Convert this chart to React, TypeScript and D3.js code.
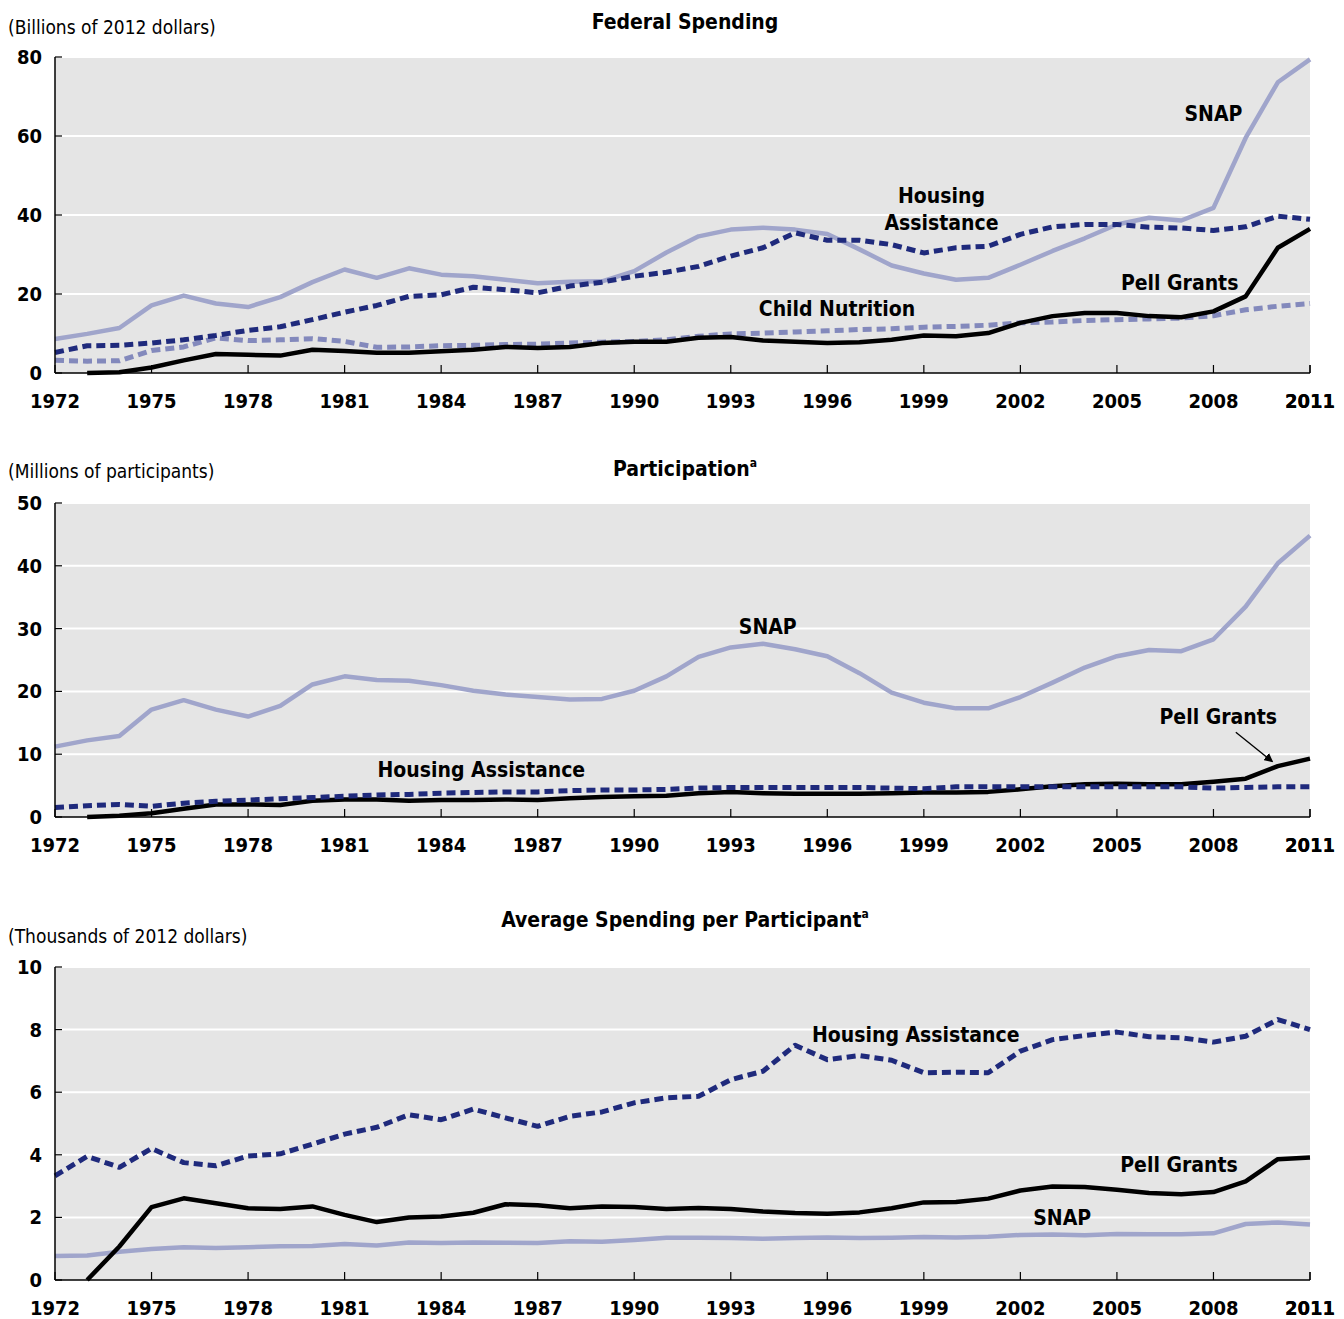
import React from "react";
import * as d3 from "d3";

// years 1972..2011
const years = d3.range(1972, 2012);
const yearTicks = d3.range(1972, 2012, 3).concat([2011]);

// Federal spending, billions of 2012 dollars
const spendSnap = [8.6, 9.9, 11.4, 17.1, 19.6, 17.6, 16.7, 19.2, 23.0, 26.2, 24.1, 26.5, 24.9, 24.5, 23.6, 22.7, 23.1, 23.2, 25.8, 30.5,
  34.6, 36.3, 36.8, 36.3, 35.2, 31.3, 27.2, 25.2, 23.6, 24.1, 27.4, 30.9, 34.1, 37.6, 39.3, 38.6, 41.8, 59.5, 73.6, 79.4];
const spendHousing = [5.2, 6.9, 7.0, 7.6, 8.4, 9.5, 10.8, 11.7, 13.5, 15.4, 17.1, 19.4, 19.8, 21.7, 21.1, 20.3, 22.0, 23.0, 24.5, 25.5,
  27.0, 29.6, 31.7, 35.5, 33.6, 33.6, 32.5, 30.4, 31.7, 32.1, 35.1, 37.0, 37.6, 37.6, 36.9, 36.7, 36.1, 37.0, 39.7, 38.9];
const spendChild = [3.2, 3.0, 3.1, 5.7, 6.6, 8.9, 8.2, 8.4, 8.7, 8.0, 6.5, 6.6, 6.9, 7.0, 7.2, 7.3, 7.6, 7.8, 8.0, 8.4,
  9.3, 9.9, 10.1, 10.4, 10.7, 11.0, 11.2, 11.6, 11.8, 12.1, 12.7, 12.9, 13.3, 13.5, 13.7, 13.9, 14.5, 16.0, 16.9, 17.6];
const spendPell = [null, 0, 0.2, 1.4, 3.2, 4.8, 4.6, 4.4, 5.9, 5.6, 5.1, 5.1, 5.5, 5.9, 6.6, 6.3, 6.6, 7.6, 7.9, 7.9,
  8.9, 9.1, 8.2, 7.9, 7.6, 7.8, 8.4, 9.5, 9.3, 10.1, 12.7, 14.4, 15.2, 15.2, 14.4, 14.1, 15.6, 19.4, 31.7, 36.5];

// Participation, millions
const partSnap = [11.2, 12.2, 12.9, 17.1, 18.6, 17.1, 16.0, 17.7, 21.1, 22.4, 21.8, 21.7, 21.0, 20.1, 19.5, 19.1, 18.7, 18.8, 20.1, 22.4,
  25.5, 27.0, 27.6, 26.7, 25.6, 22.9, 19.8, 18.2, 17.3, 17.3, 19.1, 21.4, 23.8, 25.6, 26.6, 26.4, 28.3, 33.5, 40.4, 44.8];
const partHousing = [1.5, 1.8, 2.0, 1.7, 2.2, 2.5, 2.7, 2.9, 3.1, 3.3, 3.5, 3.6, 3.8, 3.9, 4.0, 4.0, 4.2, 4.3, 4.3, 4.4,
  4.6, 4.7, 4.7, 4.7, 4.7, 4.7, 4.6, 4.5, 4.8, 4.8, 4.8, 4.8, 4.8, 4.8, 4.8, 4.8, 4.6, 4.7, 4.8, 4.8];
const partPell = [null, 0, 0.2, 0.6, 1.3, 2.0, 2.0, 1.9, 2.6, 2.8, 2.8, 2.6, 2.7, 2.7, 2.8, 2.7, 3.0, 3.2, 3.3, 3.4,
  3.8, 4.0, 3.8, 3.7, 3.7, 3.7, 3.8, 3.9, 3.9, 4.0, 4.4, 4.9, 5.2, 5.3, 5.2, 5.2, 5.6, 6.1, 8.1, 9.3];

// Average spending per participant, thousands of 2012 dollars
const avgHousing = [3.33, 3.95, 3.6, 4.2, 3.75, 3.65, 3.96, 4.03, 4.34, 4.66, 4.88, 5.28, 5.12, 5.46, 5.18, 4.91, 5.23, 5.37, 5.66, 5.82,
  5.87, 6.4, 6.67, 7.5, 7.04, 7.17, 7.02, 6.62, 6.64, 6.62, 7.31, 7.68, 7.81, 7.92, 7.77, 7.74, 7.6, 7.79, 8.32, 8.0];
const avgPell = [null, 0, 1.07, 2.33, 2.61, 2.45, 2.29, 2.27, 2.35, 2.08, 1.85, 2.0, 2.03, 2.15, 2.42, 2.39, 2.29, 2.35, 2.33, 2.27,
  2.3, 2.27, 2.19, 2.14, 2.12, 2.16, 2.29, 2.48, 2.49, 2.6, 2.86, 2.99, 2.97, 2.88, 2.78, 2.74, 2.81, 3.15, 3.86, 3.91];
const avgSnap = [0.77, 0.78, 0.9, 0.99, 1.05, 1.02, 1.05, 1.08, 1.09, 1.15, 1.1, 1.2, 1.18, 1.2, 1.19, 1.18, 1.24, 1.22, 1.28, 1.35,
  1.35, 1.34, 1.32, 1.34, 1.36, 1.34, 1.35, 1.37, 1.36, 1.38, 1.44, 1.45, 1.43, 1.47, 1.46, 1.46, 1.49, 1.79, 1.84, 1.77];

const FONT = "'DejaVu Sans Condensed', 'Liberation Sans Narrow', sans-serif";
const C_SNAP = "#a0a5cb";
const C_HOUSING = "#1f2a7c";
const C_CHILD = "#8389bc";
const C_PELL = "#000000";

const left = 55;
const right = 1310;

type Series = { values: (number | null)[]; color: string; dash?: string; width: number };
type Label = { text: string[]; year: number; value: number; anchor?: string };

const x = d3.scaleLinear().domain([1972, 2011]).range([left, right]);

function Panel(props: {
  top: number; bottom: number; max: number; step: number;
  title: string; sup: boolean; titleY: number; unit: string; unitY: number;
  series: Series[]; labels: Label[]; arrow?: { year: number; value: number };
}) {
  const { top, bottom, max, step, series, labels } = props;
  const y = d3.scaleLinear().domain([0, max]).range([bottom, top]);
  const yTicks = d3.range(0, max + step / 2, step);
  const line = d3.line<number | null>()
    .defined((d) => d !== null)
    .x((_, i) => x(years[i]))
    .y((d) => y(d as number));
  return (
    <g>
      <text x={685} y={props.titleY} textAnchor="middle" fontWeight="bold" fontSize={21}>
        {props.title}
        {props.sup && <tspan fontSize={12} dy={-9}>a</tspan>}
      </text>
      <text x={8} y={props.unitY} fontSize={19}>{props.unit}</text>
      <rect x={left} y={top} width={right - left} height={bottom - top} fill="#e5e5e5" />
      {yTicks.slice(1).map((t) => (
        <line key={t} x1={left} x2={right} y1={y(t)} y2={y(t)} stroke="#fff" strokeWidth={2} />
      ))}
      {series.map((s, i) => (
        <path key={i} d={line(s.values) || ""} fill="none" stroke={s.color} strokeWidth={s.width}
          strokeDasharray={s.dash} strokeLinejoin="round" />
      ))}
      <line x1={left} x2={left} y1={top} y2={bottom} stroke="#000" strokeWidth={1.5} />
      <line x1={left} x2={right} y1={bottom} y2={bottom} stroke="#000" strokeWidth={1.5} />
      {yTicks.map((t) => (
        <g key={t}>
          <line x1={left} x2={left + 7} y1={y(t)} y2={y(t)} stroke="#000" strokeWidth={1.2} />
          <text x={42} y={y(t) + 7} textAnchor="end" fontWeight="bold" fontSize={20}>{t}</text>
        </g>
      ))}
      {yearTicks.map((t) => (
        <g key={t}>
          <line x1={x(t)} x2={x(t)} y1={bottom} y2={bottom - 8} stroke="#000" strokeWidth={1.2} />
          <text x={x(t)} y={bottom + 35} textAnchor="middle" fontWeight="bold" fontSize={20}>{t}</text>
        </g>
      ))}
      {labels.map((l, i) => (
        <text key={i} x={x(l.year)} y={y(l.value)} textAnchor={l.anchor || "middle"} fontWeight="bold" fontSize={21}>
          {l.text.map((t, j) => (
            <tspan key={j} x={x(l.year)} dy={j === 0 ? 0 : 27}>{t}</tspan>
          ))}
        </text>
      ))}
      {props.arrow && (
        <line x1={x(props.arrow.year) - 42} y1={y(props.arrow.value) - 34}
          x2={x(props.arrow.year) - 6} y2={y(props.arrow.value) - 5}
          stroke="#000" strokeWidth={1.3} markerEnd="url(#arrowhead)" />
      )}
    </g>
  );
}

export default function App() {
  const solid = 4.5;
  const dashW = 5;
  const dash = "9,5";
  return (
    <svg width={1344} height={1319} fontFamily={FONT}
      style={{ position: "absolute", left: 0, top: 0, background: "#fff" }}>
      <defs>
        <marker id="arrowhead" viewBox="0 0 10 10" refX={8} refY={5} markerWidth={7} markerHeight={7}
          markerUnits="strokeWidth" orient="auto">
          <path d="M0,0 L10,5 L0,10 z" fill="#000" />
        </marker>
      </defs>
      <Panel top={57} bottom={373} max={80} step={20} title="Federal Spending" sup={false} titleY={29}
        unit="(Billions of 2012 dollars)" unitY={34}
        series={[
          { values: spendSnap, color: C_SNAP, width: solid },
          { values: spendChild, color: C_CHILD, width: dashW, dash },
          { values: spendPell, color: C_PELL, width: solid },
          { values: spendHousing, color: C_HOUSING, width: dashW, dash },
        ]}
        labels={[
          { text: ["SNAP"], year: 2008, value: 63.8 },
          { text: ["Housing", "Assistance"], year: 1999.55, value: 43 },
          { text: ["Pell Grants"], year: 2006.95, value: 21 },
          { text: ["Child Nutrition"], year: 1996.3, value: 14.4 },
        ]} />
      <Panel top={503} bottom={817} max={50} step={10} title="Participation" sup={true} titleY={476}
        unit="(Millions of participants)" unitY={478}
        series={[
          { values: partSnap, color: C_SNAP, width: solid },
          { values: partPell, color: C_PELL, width: solid },
          { values: partHousing, color: C_HOUSING, width: dashW, dash },
        ]}
        labels={[
          { text: ["SNAP"], year: 1994.15, value: 29.2 },
          { text: ["Housing Assistance"], year: 1985.25, value: 6.3 },
          { text: ["Pell Grants"], year: 2008.15, value: 14.8 },
        ]}
        arrow={{ year: 2010, value: 8.1 }} />
      <Panel top={967} bottom={1280} max={10} step={2} title="Average Spending per Participant" sup={true} titleY={927}
        unit="(Thousands of 2012 dollars)" unitY={943}
        series={[
          { values: avgSnap, color: C_SNAP, width: solid },
          { values: avgPell, color: C_PELL, width: solid },
          { values: avgHousing, color: C_HOUSING, width: dashW, dash },
        ]}
        labels={[
          { text: ["Housing Assistance"], year: 1998.75, value: 7.61 },
          { text: ["Pell Grants"], year: 2006.93, value: 3.46 },
          { text: ["SNAP"], year: 2003.3, value: 1.75 },
        ]} />
    </svg>
  );
}
